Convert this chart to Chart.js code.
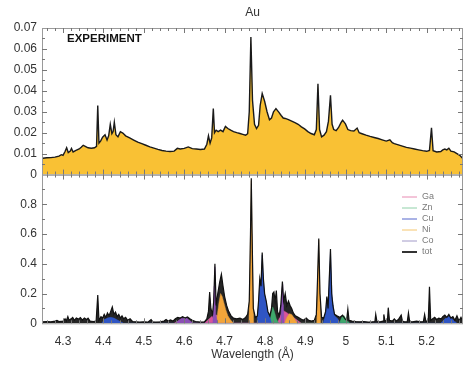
<!DOCTYPE html>
<html lang="en">
<head>
  <meta charset="UTF-8" />
  <title>Au spectrum</title>
  <script src="https://cdn.jsdelivr.net/npm/chart.js"></script>
  <style>
    html, body { margin: 0; padding: 0; background: #fff; }
    #chart { display: block; }
  </style>
</head>
<body>
<canvas id="chart" width="464" height="367"></canvas>
<script>
  // --- data ---
  const xTicks = [4.3, 4.4, 4.5, 4.6, 4.7, 4.8, 4.9, 5.0, 5.1, 5.2];
  const xTickLabels = ['4.3', '4.4', '4.5', '4.6', '4.7', '4.8', '4.9', '5', '5.1', '5.2'];
  const yTopTicks = [0, 0.01, 0.02, 0.03, 0.04, 0.05, 0.06, 0.07];
  const yTopLabels = ['0', '0.01', '0.02', '0.03', '0.04', '0.05', '0.06', '0.07'];
  const yBotTicks = [0, 0.2, 0.4, 0.6, 0.8];
  const yBotLabels = ['0', '0.2', '0.4', '0.6', '0.8'];
  const legendOrder = ['Ga', 'Zn', 'Cu', 'Ni', 'Co', 'tot'];

  // experiment (top panel)
  const expWl = [4.250, 4.260, 4.270, 4.280, 4.290, 4.296, 4.300, 4.305, 4.309, 4.313, 4.318, 4.321, 4.325, 4.332, 4.340, 4.345, 4.350, 4.355, 4.362, 4.370, 4.378, 4.383, 4.386, 4.389, 4.393, 4.398, 4.404, 4.409, 4.413, 4.417, 4.421, 4.424, 4.427, 4.431, 4.436, 4.442, 4.448, 4.455, 4.465, 4.475, 4.485, 4.495, 4.505, 4.515, 4.525, 4.535, 4.545, 4.555, 4.565, 4.575, 4.583, 4.590, 4.600, 4.610, 4.620, 4.630, 4.640, 4.650, 4.656, 4.660, 4.664, 4.668, 4.672, 4.675, 4.679, 4.684, 4.690, 4.696, 4.702, 4.708, 4.715, 4.722, 4.730, 4.738, 4.745, 4.752, 4.757, 4.761, 4.765, 4.769, 4.774, 4.779, 4.784, 4.788, 4.793, 4.799, 4.805, 4.811, 4.816, 4.821, 4.827, 4.834, 4.840, 4.845, 4.850, 4.858, 4.866, 4.874, 4.882, 4.890, 4.898, 4.906, 4.914, 4.922, 4.927, 4.931, 4.935, 4.940, 4.946, 4.952, 4.957, 4.962, 4.966, 4.970, 4.976, 4.982, 4.988, 4.992, 4.999, 5.005, 5.012, 5.020, 5.028, 5.033, 5.040, 5.050, 5.060, 5.070, 5.080, 5.090, 5.100, 5.109, 5.115, 5.120, 5.130, 5.140, 5.150, 5.160, 5.170, 5.180, 5.190, 5.200, 5.207, 5.212, 5.216, 5.225, 5.235, 5.240, 5.245, 5.250, 5.255, 5.260, 5.268, 5.275, 5.282, 5.290];
  const expVal = [0.0078, 0.0080, 0.0081, 0.0083, 0.0088, 0.0095, 0.0092, 0.0110, 0.0128, 0.0105, 0.0112, 0.0125, 0.0108, 0.0115, 0.0122, 0.0130, 0.0140, 0.0135, 0.0128, 0.0126, 0.0128, 0.0135, 0.0330, 0.0150, 0.0160, 0.0178, 0.0190, 0.0165, 0.0185, 0.0240, 0.0195, 0.0205, 0.0250, 0.0190, 0.0180, 0.0205, 0.0198, 0.0185, 0.0175, 0.0165, 0.0155, 0.0148, 0.0140, 0.0132, 0.0126, 0.0120, 0.0115, 0.0112, 0.0110, 0.0112, 0.0125, 0.0122, 0.0125, 0.0132, 0.0124, 0.0122, 0.0120, 0.0122, 0.0145, 0.0185, 0.0150, 0.0175, 0.0315, 0.0200, 0.0212, 0.0205, 0.0212, 0.0205, 0.0230, 0.0220, 0.0212, 0.0205, 0.0200, 0.0196, 0.0192, 0.0188, 0.0195, 0.0300, 0.0657, 0.0355, 0.0240, 0.0220, 0.0235, 0.0330, 0.0387, 0.0350, 0.0300, 0.0262, 0.0270, 0.0300, 0.0315, 0.0298, 0.0282, 0.0270, 0.0268, 0.0262, 0.0255, 0.0248, 0.0240, 0.0228, 0.0218, 0.0205, 0.0196, 0.0190, 0.0215, 0.0434, 0.0215, 0.0180, 0.0188, 0.0205, 0.0255, 0.0378, 0.0240, 0.0215, 0.0210, 0.0225, 0.0248, 0.0260, 0.0242, 0.0215, 0.0210, 0.0208, 0.0222, 0.0200, 0.0195, 0.0188, 0.0182, 0.0177, 0.0172, 0.0166, 0.0160, 0.0166, 0.0152, 0.0148, 0.0142, 0.0136, 0.0130, 0.0126, 0.0122, 0.0118, 0.0114, 0.0111, 0.0115, 0.0223, 0.0114, 0.0108, 0.0110, 0.0118, 0.0122, 0.0118, 0.0126, 0.0112, 0.0108, 0.0100, 0.0092, 0.0076];

  // computed total (bottom panel)
  const totWl = [4.250, 4.260, 4.270, 4.280, 4.285, 4.290, 4.300, 4.305, 4.308, 4.312, 4.315, 4.320, 4.324, 4.328, 4.333, 4.338, 4.343, 4.348, 4.353, 4.358, 4.362, 4.367, 4.375, 4.382, 4.386, 4.389, 4.394, 4.398, 4.402, 4.406, 4.410, 4.414, 4.418, 4.422, 4.426, 4.430, 4.434, 4.438, 4.442, 4.446, 4.450, 4.455, 4.460, 4.466, 4.472, 4.480, 4.490, 4.500, 4.510, 4.518, 4.522, 4.530, 4.540, 4.550, 4.555, 4.560, 4.566, 4.572, 4.578, 4.584, 4.590, 4.596, 4.602, 4.608, 4.614, 4.620, 4.628, 4.640, 4.650, 4.656, 4.660, 4.663, 4.666, 4.670, 4.673, 4.676, 4.679, 4.683, 4.688, 4.692, 4.696, 4.700, 4.705, 4.710, 4.716, 4.722, 4.730, 4.738, 4.745, 4.752, 4.757, 4.761, 4.764, 4.766, 4.768, 4.771, 4.776, 4.781, 4.784, 4.787, 4.790, 4.793, 4.796, 4.799, 4.803, 4.807, 4.812, 4.816, 4.819, 4.822, 4.825, 4.828, 4.831, 4.835, 4.839, 4.843, 4.846, 4.850, 4.854, 4.858, 4.862, 4.866, 4.870, 4.875, 4.882, 4.888, 4.895, 4.902, 4.908, 4.915, 4.922, 4.927, 4.930, 4.933, 4.936, 4.940, 4.945, 4.950, 4.953, 4.956, 4.959, 4.962, 4.965, 4.968, 4.972, 4.978, 4.985, 4.992, 4.998, 5.002, 5.005, 5.008, 5.015, 5.025, 5.035, 5.045, 5.055, 5.065, 5.072, 5.074, 5.077, 5.085, 5.092, 5.094, 5.097, 5.103, 5.105, 5.108, 5.115, 5.120, 5.125, 5.130, 5.137, 5.140, 5.145, 5.152, 5.155, 5.158, 5.165, 5.175, 5.185, 5.192, 5.195, 5.198, 5.204, 5.207, 5.210, 5.215, 5.220, 5.225, 5.230, 5.236, 5.240, 5.245, 5.250, 5.255, 5.260, 5.265, 5.270, 5.275, 5.280, 5.285, 5.290];
  const totVal = [0.010, 0.012, 0.010, 0.015, 0.020, 0.012, 0.015, 0.030, 0.015, 0.045, 0.020, 0.030, 0.040, 0.020, 0.035, 0.028, 0.038, 0.022, 0.035, 0.025, 0.035, 0.015, 0.012, 0.015, 0.190, 0.020, 0.045, 0.035, 0.060, 0.040, 0.070, 0.050, 0.080, 0.110, 0.060, 0.075, 0.045, 0.060, 0.035, 0.050, 0.030, 0.040, 0.020, 0.030, 0.012, 0.010, 0.008, 0.010, 0.008, 0.025, 0.010, 0.008, 0.010, 0.015, 0.025, 0.015, 0.022, 0.015, 0.030, 0.040, 0.035, 0.045, 0.035, 0.042, 0.030, 0.020, 0.012, 0.008, 0.010, 0.030, 0.080, 0.210, 0.100, 0.060, 0.150, 0.400, 0.120, 0.200, 0.280, 0.330, 0.250, 0.180, 0.120, 0.080, 0.050, 0.035, 0.030, 0.035, 0.025, 0.040, 0.060, 0.150, 0.600, 0.975, 0.600, 0.100, 0.040, 0.050, 0.150, 0.300, 0.250, 0.475, 0.300, 0.200, 0.150, 0.080, 0.050, 0.100, 0.200, 0.210, 0.150, 0.220, 0.080, 0.050, 0.120, 0.280, 0.150, 0.200, 0.120, 0.150, 0.120, 0.100, 0.070, 0.050, 0.040, 0.030, 0.020, 0.035, 0.020, 0.015, 0.020, 0.060, 0.300, 0.570, 0.200, 0.040, 0.035, 0.080, 0.180, 0.100, 0.300, 0.500, 0.200, 0.120, 0.060, 0.050, 0.040, 0.055, 0.030, 0.020, 0.095, 0.020, 0.015, 0.012, 0.010, 0.012, 0.008, 0.010, 0.012, 0.060, 0.012, 0.010, 0.015, 0.060, 0.015, 0.020, 0.105, 0.020, 0.015, 0.030, 0.015, 0.025, 0.055, 0.015, 0.010, 0.010, 0.070, 0.012, 0.010, 0.015, 0.010, 0.012, 0.060, 0.015, 0.015, 0.245, 0.020, 0.030, 0.040, 0.025, 0.035, 0.030, 0.045, 0.055, 0.040, 0.060, 0.035, 0.045, 0.020, 0.050, 0.015, 0.040, 0.010];

  // element contributions
  const gaWl = [4.575, 4.590, 4.605, 4.620, 4.650, 4.662, 4.670, 4.680, 4.690, 4.702, 4.830, 4.838, 4.845, 4.852, 4.860, 4.870, 4.880, 4.890];
  const gaVal = [0, 0.022, 0.028, 0, 0, 0.030, 0.050, 0.055, 0.035, 0, 0, 0.050, 0.085, 0.075, 0.060, 0.040, 0.020, 0];
  const znWl = [4.810, 4.815, 4.819, 4.823, 4.828, 4.834, 4.984, 4.990, 4.996, 5.002, 5.010];
  const znVal = [0, 0.060, 0.110, 0.080, 0.030, 0, 0, 0.040, 0.050, 0.020, 0];
  const cuWl = [4.396, 4.402, 4.410, 4.418, 4.426, 4.436, 4.450, 4.780, 4.784, 4.787, 4.790, 4.793, 4.796, 4.799, 4.803, 4.807, 4.812, 4.816, 4.944, 4.950, 4.953, 4.956, 4.959, 4.962, 4.966, 4.972, 4.980, 4.986, 5.235, 5.245, 5.255, 5.265, 5.275];
  const cuVal = [0, 0.025, 0.035, 0.040, 0.035, 0.020, 0, 0, 0.120, 0.280, 0.240, 0.460, 0.290, 0.190, 0.140, 0.070, 0.040, 0, 0, 0.070, 0.170, 0.090, 0.290, 0.480, 0.180, 0.050, 0.030, 0, 0, 0.030, 0.045, 0.025, 0];
  const niWl = [4.678, 4.682, 4.686, 4.690, 4.694, 4.698, 4.703, 4.708, 4.714, 4.722, 4.760, 4.763, 4.766, 4.769, 4.772, 4.848, 4.854, 4.860, 4.866, 4.872, 4.880, 4.928, 4.931, 4.933, 4.935, 4.938];
  const niVal = [0, 0.060, 0.140, 0.200, 0.180, 0.140, 0.090, 0.050, 0.025, 0, 0, 0.400, 0.960, 0.400, 0, 0, 0.040, 0.065, 0.060, 0.035, 0, 0, 0.350, 0.560, 0.300, 0];
  const coWl = [4.578, 4.592, 4.606, 4.622, 4.671, 4.674, 4.676, 4.678, 4.683, 4.839, 4.842, 4.844, 4.847];
  const coVal = [0, 0.032, 0.035, 0, 0, 0.250, 0.380, 0.060, 0, 0, 0.240, 0.260, 0];

  const pts = (wl, v) => wl.map((w, i) => ({ x: w, y: v[i] }));

  // panel decorations: frame, inward ticks, texts, legend
  const panelDeco = {
    id: 'panelDeco',
    afterDatasetsDraw(chart) {
      const ctx = chart.ctx;
      const x = chart.scales.x;
      ctx.save();
      ctx.lineWidth = 1;
      const panels = [['yTop', 0.01], ['yBot', 0.2]];
      for (const [id, step] of panels) {
        const y = chart.scales[id];
        ctx.strokeStyle = '#9a9a9a';
        ctx.strokeRect(x.left + 0.5, y.top + 0.5, x.right - x.left - 1, y.bottom - y.top);
        ctx.strokeStyle = '#777';
        ctx.beginPath();
        const n = Math.round(y.max / step * 2);
        for (let k = 1; k < n; k++) {
          const py = Math.round(y.getPixelForValue(k * step / 2)) + 0.5;
          const len = k % 2 === 0 ? 5 : 3;
          ctx.moveTo(x.left, py); ctx.lineTo(x.left + len, py);
          ctx.moveTo(x.right, py); ctx.lineTo(x.right - len, py);
        }
        for (let k = 213; k <= 264; k++) {
          const v = k * 0.02;
          if (v < x.min || v > x.max) continue;
          const px = Math.round(x.getPixelForValue(v)) + 0.5;
          const len = k % 5 === 0 ? 5 : 3;
          ctx.moveTo(px, y.bottom); ctx.lineTo(px, y.bottom - len);
          ctx.moveTo(px, y.top); ctx.lineTo(px, y.top + len);
        }
        ctx.stroke();
      }
      // texts
      ctx.fillStyle = '#333';
      ctx.font = '12px "Liberation Sans", Arial, sans-serif';
      ctx.textAlign = 'center';
      ctx.textBaseline = 'middle';
      ctx.fillText('Au', (x.left + x.right) / 2, 13);
      ctx.fillStyle = '#111';
      ctx.font = 'bold 11.5px "Liberation Sans", Arial, sans-serif';
      ctx.textAlign = 'left';
      ctx.fillText('EXPERIMENT', 67, 39);
      // legend
      ctx.font = '9px "Liberation Sans", Arial, sans-serif';
      legendOrder.forEach((name, i) => {
        const d = chart.data.datasets.find(s => s.label === name);
        const ly = 197 + i * 11;
        ctx.strokeStyle = d.legendColor;
        ctx.lineWidth = name === 'tot' ? 2 : 1;
        ctx.beginPath();
        ctx.moveTo(402, ly); ctx.lineTo(417, ly);
        ctx.stroke();
        ctx.fillStyle = '#7a7a7a';
        ctx.fillText(name, 422, ly);
      });
      ctx.restore();
    }
  };

  const tickFont = { family: '"Liberation Sans", Arial, sans-serif', size: 12 };

  new Chart(document.getElementById('chart'), {
    type: 'line',
    data: {
      datasets: [
        { label: 'tot', yAxisID: 'yBot', data: pts(totWl, totVal), borderColor: '#111', borderWidth: 1.2, fill: false, order: 0, legendColor: '#333' },
        { label: 'Ga', yAxisID: 'yBot', data: pts(gaWl, gaVal), borderColor: '#d9559b', backgroundColor: '#d9559b', borderWidth: 0.5, fill: 'origin', order: 5, legendColor: '#e88ab2' },
        { label: 'Zn', yAxisID: 'yBot', data: pts(znWl, znVal), borderColor: '#3fa86b', backgroundColor: '#3fa86b', borderWidth: 0.5, fill: 'origin', order: 4, legendColor: '#8fd0a8' },
        { label: 'Cu', yAxisID: 'yBot', data: pts(cuWl, cuVal), borderColor: '#2f55c4', backgroundColor: '#2f55c4', borderWidth: 0.5, fill: 'origin', order: 3, legendColor: '#5566cc' },
        { label: 'Ni', yAxisID: 'yBot', data: pts(niWl, niVal), borderColor: '#d99a45', backgroundColor: '#f2a53a', borderWidth: 0.5, fill: 'origin', order: 2, legendColor: '#f5c66e' },
        { label: 'Co', yAxisID: 'yBot', data: pts(coWl, coVal), borderColor: '#8b4fb5', backgroundColor: '#8b4fb5', borderWidth: 0.5, fill: 'origin', order: 1, legendColor: '#a29ac8' },
        // dark area under the total, drawn behind the element fills
        { label: 'tot area', yAxisID: 'yBot', data: pts(totWl, totVal), borderWidth: 0, backgroundColor: '#262626', fill: 'origin', order: 8 },
        { label: 'EXPERIMENT', yAxisID: 'yTop', data: pts(expWl, expVal), borderColor: '#1a1a1a', backgroundColor: '#f9c134', borderWidth: 1.4, fill: 'origin', order: 6 }
      ]
    },
    options: {
      responsive: false,
      animation: false,
      devicePixelRatio: 1,
      elements: { point: { radius: 0 }, line: { tension: 0 } },
      layout: { padding: { top: 28, right: 1, left: 0, bottom: 0 } },
      plugins: { legend: { display: false }, tooltip: { enabled: false } },
      scales: {
        x: {
          type: 'linear', min: 4.248, max: 5.29,
          grid: { display: false, drawTicks: false },
          border: { display: false },
          afterBuildTicks: s => { s.ticks = xTicks.map(v => ({ value: v })); },
          afterFit: s => { s.height = 43.7; },
          ticks: { autoSkip: false, maxRotation: 0, padding: 11, color: '#333', font: tickFont, callback: (v, i) => xTickLabels[i] },
          title: { display: true, text: 'Wavelength (Å)', color: '#333', font: tickFont, padding: { top: 0, bottom: 5 } }
        },
        yBot: {
          type: 'linear', position: 'left', stack: 'panels', stackWeight: 1.015, min: 0, max: 1.0,
          grid: { display: false, drawTicks: false },
          border: { display: false },
          afterBuildTicks: s => { s.ticks = yBotTicks.map(v => ({ value: v })); },
          afterFit: s => { s.width = 42; },
          ticks: { autoSkip: false, padding: 5, color: '#333', font: tickFont, callback: (v, i) => yBotLabels[i] }
        },
        yTop: {
          type: 'linear', position: 'left', stack: 'panels', stackWeight: 1, min: 0, max: 0.07,
          grid: { display: false, drawTicks: false },
          border: { display: false },
          afterBuildTicks: s => { s.ticks = yTopTicks.map(v => ({ value: v })); },
          afterFit: s => { s.width = 42; },
          ticks: { autoSkip: false, padding: 5, color: '#333', font: tickFont, callback: (v, i) => yTopLabels[i] }
        }
      }
    },
    plugins: [panelDeco]
  });
</script>
</body>
</html>
